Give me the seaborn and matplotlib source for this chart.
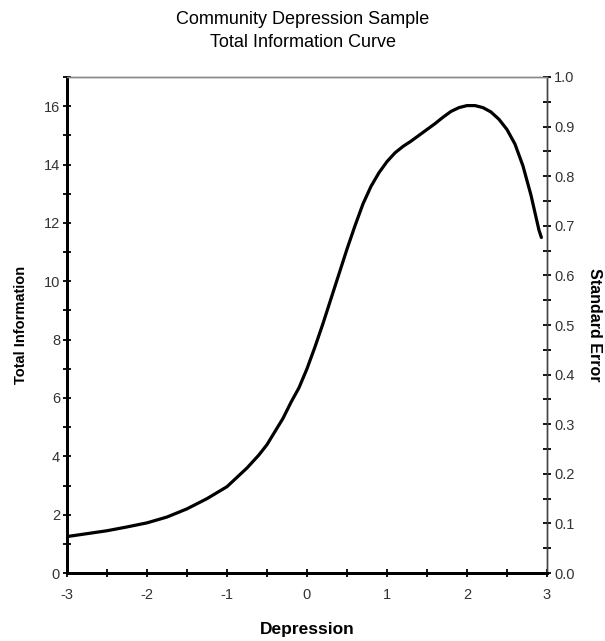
import matplotlib
matplotlib.use('Agg')
import matplotlib.pyplot as plt
import seaborn as sns
import pandas as pd
from matplotlib.ticker import MultipleLocator, FormatStrFormatter

# --- data ---
theta = [-3.0, -2.75, -2.5, -2.25, -2.0, -1.75, -1.5, -1.25, -1.0, -0.75,
         -0.6, -0.5, -0.4, -0.3, -0.2, -0.1, 0.0, 0.1, 0.2, 0.3, 0.4, 0.5,
         0.6, 0.7, 0.8, 0.9, 1.0, 1.1, 1.2, 1.3, 1.4, 1.5, 1.6, 1.7, 1.8,
         1.9, 2.0, 2.1, 2.2, 2.3, 2.4, 2.5, 2.6, 2.7, 2.8, 2.9, 2.93]
info = [1.25, 1.35, 1.45, 1.58, 1.72, 1.92, 2.2, 2.55, 2.96, 3.6,
        4.05, 4.4, 4.85, 5.3, 5.85, 6.35, 7.0, 7.75, 8.55, 9.4, 10.25, 11.1,
        11.9, 12.65, 13.25, 13.72, 14.1, 14.4, 14.62, 14.8, 15.0, 15.2, 15.4,
        15.62, 15.82, 15.95, 16.02, 16.02, 15.95, 15.8, 15.55, 15.2, 14.7,
        13.95, 12.95, 11.75, 11.5]

df = pd.DataFrame({'Depression': theta, 'Total Information': info})

sns.set_style('white')
plt.rcParams['font.family'] = ['Liberation Sans', 'DejaVu Sans']
plt.rcParams['axes.unicode_minus'] = False

fig = plt.figure(figsize=(6.05, 6.41), dpi=100)
ax = fig.add_axes([0.1107, 0.106, 0.7934, 0.7739])

sns.lineplot(data=df, x='Depression', y='Total Information', ax=ax,
             color='black', linewidth=2.3, sort=False)

ax.set_xlim(-3, 3)
ax.set_ylim(0, 17)
ax.xaxis.set_major_locator(MultipleLocator(1))
ax.xaxis.set_minor_locator(MultipleLocator(0.5))
ax.yaxis.set_major_locator(MultipleLocator(2))
ax.yaxis.set_minor_locator(MultipleLocator(1))

# right axis: standard error scale
ax2 = ax.twinx()
ax2.set_ylim(0, 1.0)
ax2.yaxis.set_major_locator(MultipleLocator(0.1))
ax2.yaxis.set_minor_locator(MultipleLocator(0.05))
ax2.yaxis.set_major_formatter(FormatStrFormatter('%.1f'))

for a in (ax, ax2):
    a.tick_params(which='both', direction='inout', length=6, width=1.3,
                  labelsize=10.5, labelcolor='#333333', color='black', pad=2)
    a.spines['top'].set_color('#888888')
    a.spines['top'].set_linewidth(1)
    a.spines['right'].set_color('#444444')
    a.spines['right'].set_linewidth(1)
    a.spines['left'].set_color('black')
    a.spines['left'].set_linewidth(2)
    a.spines['bottom'].set_color('black')
    a.spines['bottom'].set_linewidth(2)
ax.tick_params(axis='y', which='both', left=True, right=False)
ax.tick_params(axis='x', which='both', bottom=True, top=False, pad=8)
ax2.tick_params(axis='y', which='both', right=True, left=False)

ax.set_xlabel('Depression', fontsize=12.5, fontweight='bold', labelpad=14,
              color='black')
ax.set_ylabel('Total Information', fontsize=10.5, fontweight='bold',
              labelpad=11, color='black')
ax2.set_ylabel('Standard Error', fontsize=11.5, fontweight='bold',
               rotation=270, labelpad=20, color='black')

fig.text(0.5, 0.969, 'Community Depression Sample', ha='center', va='center',
         fontsize=13, color='black')
fig.text(0.5, 0.933, 'Total Information Curve', ha='center', va='center',
         fontsize=13, color='black')

fig.savefig('out.png', dpi=100)
